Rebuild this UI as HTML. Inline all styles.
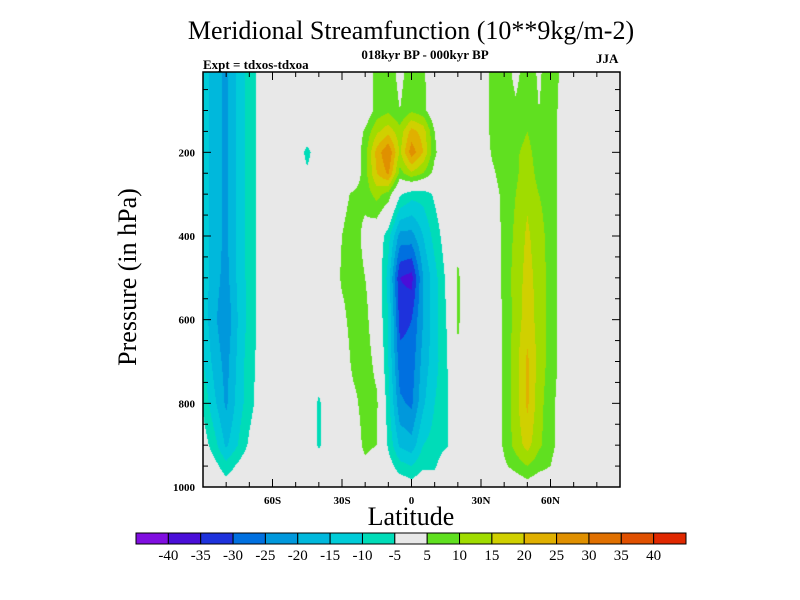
<!DOCTYPE html>
<html><head><meta charset="utf-8">
<style>
body{margin:0;background:#fff;}
#wrap{position:relative;width:800px;height:600px;overflow:hidden;font-family:"Liberation Serif",serif;}
.t{position:absolute;white-space:nowrap;color:#000;}
</style></head>
<body>
<div id="wrap">
<div class="t" style="left:0;width:822px;text-align:center;top:16px;font-size:26px;">Meridional Streamfunction (10**9kg/m-2)</div>
<div class="t" style="left:0;width:850px;text-align:center;top:47px;font-size:13px;font-weight:bold;">018kyr BP - 000kyr BP</div>
<div class="t" style="left:203px;top:57px;font-size:13px;font-weight:bold;">Expt = tdxos-tdxoa</div>
<div class="t" style="left:596px;top:51px;font-size:13px;font-weight:bold;">JJA</div>
<div class="t" style="left:0;width:822px;text-align:center;top:502px;font-size:26px;">Latitude</div>
<div class="t" style="left:128px;top:277px;font-size:26px;transform:translate(-50%,-50%) rotate(-90deg);">Pressure (in hPa)</div>
<canvas id="cv" width="417" height="415" style="position:absolute;left:203px;top:72px;"></canvas>
<svg id="sv" width="800" height="600" style="position:absolute;left:0;top:0;"></svg>
</div>
<script>
const lats=[-90,-85,-80,-75,-70,-65,-60,-55,-50,-45,-40,-35,-30,-25,-20,-15,-10,-5,0,5,10,15,20,25,30,35,40,45,50,55,60,65,70,75,80,85,90];
const levels=[0,100,150,200,250,300,400,500,600,700,800,900,950,1000];
const p0  =[-12,-18,-21,-14,-8,-3, 0,0,0,0,0,0,0,0,0, 7,8,3,8,6,0, 0,0,0,0, 7,8,3,8,4,8,4, 0,0,0,0,0];
const p100=[-12,-18,-21,-14,-8,-3, 0,0,0,0,0,0,0,0,0, 7,9,5,9,7,0, 0,0,0,0, 7,8,6,9,5,8,3, 0,0,0,0,0];
const p150=[-12,-18,-21,-14,-8,-3, 0,0,0,0,0,0,0,0, 6,14,18,12,22,18,5, 0,0,0,0, 7,8,7,10,6,8,3, 0,0,0,0,0];
const p200=[-12,-18,-21,-14,-8,-3, 0,0,0,-7,0,0,0,0, 8,22,30,14,28,20,6, 0,0,0,0, 6,8,9,12,7,8,3, 0,0,0,0,0];
const p250=[-12,-18,-21,-14,-8,-3, 0,0,0,-4,0,0,0,0, 8,20,26,8,14,10,3, 0,0,0,0, 4,8,9,13,8,8,3, 0,0,0,0,0];
const p300=[-12,-18,-21,-14,-8,-3, 0,0,0,0,0,0,3, 6,7,12,8,-4,-8,-8,-4, 0,0,0,0, 2,7,10,14,10,8,3, 0,0,0,0,0];
const p400=[-12,-18,-21,-14,-8,-3, 0,0,0,0,0,0, 5,8,3,0,-8,-22,-22,-15,-8,-2,3,0,0, 0,7,11,16,12,8,3, 0,0,0,0,0];
const p500=[-12,-18,-22,-14,-8,-3, 0,0,0,0,0,0, 6,8,5,0,-12,-35,-37,-20,-12,-4,6,0,0, 0,7,12,17,13,8,3, 0,0,0,0,0];
const p600=[-12,-19,-24,-15,-8,-3, 0,0,0,0,0,0, 3,8,7,0,-10,-32,-30,-20,-12,-5,6,0,0, 0,6,12,18,13,8,3, 0,0,0,0,0];
const p700=[-10,-17,-22,-14,-7,-3, 0,0,0,0,0,0, 0,7,8,3,-10,-28,-28,-18,-12,-6,4,0,0, 0,6,13,21,13,8,3, 0,0,0,0,0];
const p800=[-6,-14,-21,-13,-7,-2, 0,0,0,0,-6,0, 0,3,8,6,-8,-24,-26,-16,-10,-6,0,0,0, 0,6,13,21,12,7,2, 0,0,0,0,0];
const p900=[-2,-8,-16,-10,-4,0, 0,0,0,0,-6,0, 0,0,7,5,-6,-16,-18,-10,-8,-6,0,0,0, 0,6,12,17,11,7,2, 0,0,0,0,0];
const p950=[0,-3,-8,-4,0,0, 0,0,0,0,0,0,0,0, 3,0,-2,-8,-10,-6,-6,0,0,0,0, 0,4,7,10,7,5,0, 0,0,0,0,0];
const p1000=[0,0,-2,0,0,0, 0,0,0,0,0,0,0,0,0,0,0,0, -2, 0,0,0,0,0,0,0,0,0, 2, 0,0,0,0,0,0,0,0];
const grid=[p0,p100,p150,p200,p250,p300,p400,p500,p600,p700,p800,p900,p950,p1000];
const contourLevels=[-40,-35,-30,-25,-20,-15,-10,-5,5,10,15,20,25,30,35,40];
const colorLabels=["-40","-35","-30","-25","-20","-15","-10","-5","5","10","15","20","25","30","35","40"];
const xTickLabels=["60S","30S","0","30N","60N"];
const xTickVals=[-60,-30,0,30,60];
const yTickVals=[200,400,600,800,1000];
const palette=["#800ee0","#4a0ed8","#1e32dc","#0070e0","#0098dc","#00b8dc","#00ccd8","#00dcb8","#e8e8e8","#60e020","#a0dc00","#d0d000","#e0b000","#e09000","#e07000","#e05000","#e02800"];

const PL=203,PR=620,PT=72,PB=487;
const xS=lat=>PL+(lat+90)/180*(PR-PL);
const pTop=8;
const yS=p=>PT+(p-pTop)/(1000-pTop)*(PB-PT);
const latOf=x=>(x-PL)/(PR-PL)*180-90;
const pOf=y=>pTop+(y-PT)/(PB-PT)*(1000-pTop);
function cls(v){let i=0;while(i<contourLevels.length&&v>=contourLevels[i])i++;return i;}
function hex(c){return [parseInt(c.substr(1,2),16),parseInt(c.substr(3,2),16),parseInt(c.substr(5,2),16)];}
function sample(lat,p){
  let i=Math.min(lats.length-2,Math.max(0,Math.floor((lat-lats[0])/5)));
  let fx=Math.min(1,Math.max(0,(lat-lats[i])/(lats[i+1]-lats[i])));
  let j=0;while(j<levels.length-2&&p>levels[j+1])j++;
  let fy=Math.min(1,Math.max(0,(p-levels[j])/(levels[j+1]-levels[j])));
  const a=grid[j][i],b=grid[j][i+1],c=grid[j+1][i],d=grid[j+1][i+1];
  return (a*(1-fx)+b*fx)*(1-fy)+(c*(1-fx)+d*fx)*fy;
}
const cv=document.getElementById('cv'),ctx=cv.getContext('2d');
const W=cv.width,H=cv.height,img=ctx.createImageData(W,H);
const rgb=palette.map(hex);
for(let y=0;y<H;y++){for(let x=0;x<W;x++){
  const v=sample(latOf(PL+x+0.5),pOf(PT+y+0.5));const c=rgb[cls(v)];const k=(y*W+x)*4;
  img.data[k]=c[0];img.data[k+1]=c[1];img.data[k+2]=c[2];img.data[k+3]=255;}}
ctx.putImageData(img,0,0);

const sv=document.getElementById('sv');const NS='http://www.w3.org/2000/svg';
function mk(t,at,txt){const e=document.createElementNS(NS,t);for(const k in at)e.setAttribute(k,at[k]);if(txt!==undefined)e.textContent=txt;sv.appendChild(e);return e;}
let fr=mk('rect',{x:PL,y:PT,width:PR-PL,height:PB-PT,fill:'none',stroke:'#000','stroke-width':1.5});


for(let lat=-80;lat<=80;lat+=10){
  const x=xS(lat),L=(lat%30===0)?8:5;
  let t1=mk('line',{x1:x,x2:x,y1:PB,y2:PB-L,stroke:'#000','stroke-width':1});
  
  
  let t2=mk('line',{x1:x,x2:x,y1:PT,y2:PT+L,stroke:'#000','stroke-width':1});
  
  
}
xTickVals.forEach((v,i)=>{
  let t=mk('text',{x:xS(v),y:504,'text-anchor':'middle','font-size':11,'font-weight':'bold','font-family':'Liberation Serif,serif'},xTickLabels[i]);
  
  
});
for(let p=50;p<1000;p+=50){
  const y=yS(p),L=(p%200===0)?8:5;
  let t1=mk('line',{x1:PL,x2:PL+L,y1:y,y2:y,stroke:'#000','stroke-width':1});
  
  
  let t2=mk('line',{x1:PR,x2:PR-L,y1:y,y2:y,stroke:'#000','stroke-width':1});
  
  
}
yTickVals.forEach(v=>{
  let t=mk('text',{x:195,y:yS(v)+4,'text-anchor':'end','font-size':11,'font-weight':'bold','font-family':'Liberation Serif,serif'},String(v));
  
  
});
const CL=136,CR=686,CT=533,CB=544,bw=(CR-CL)/palette.length;
palette.forEach((c,i)=>{
  let r=mk('rect',{x:CL+i*bw,y:CT,width:bw,height:CB-CT,fill:c,stroke:'#000','stroke-width':1});
  
  
});
colorLabels.forEach((s,i)=>{
  let t=mk('text',{x:CL+(i+1)*bw,y:560,'text-anchor':'middle','font-size':15,'font-family':'Liberation Serif,serif'},s);
  
  
});
</script>
</body></html>
